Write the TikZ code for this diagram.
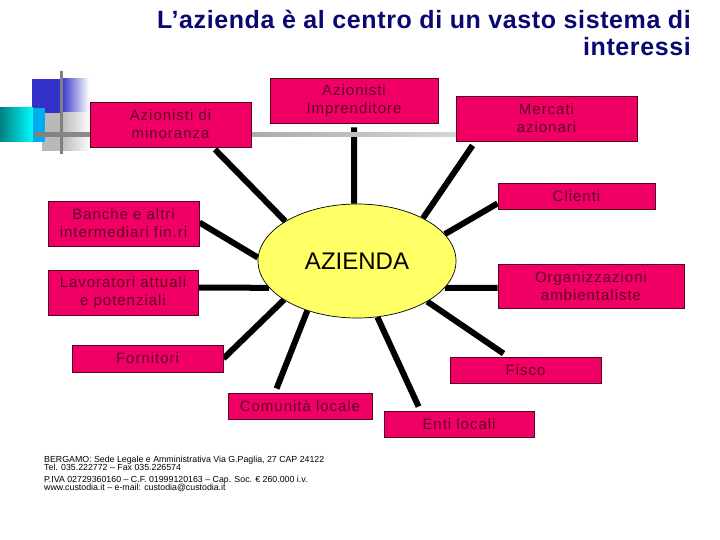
\documentclass[tikz,border=0pt]{standalone}
\usepackage{fontspec}
\setmainfont{Liberation Sans}
\newfontfamily\titlefont[LetterSpace=2.4]{Liberation Sans}
\newfontfamily\boxfont[LetterSpace=6.5]{Liberation Sans}
\usetikzlibrary{shapes.geometric}
\pgfdeclarelayer{bottom}
\pgfdeclarelayer{links}
\pgfsetlayers{bottom,links,main}
\definecolor{titleblue}{RGB}{8,8,112}
\definecolor{boxfill}{RGB}{240,0,100}
\definecolor{boxborder}{RGB}{90,0,30}
\definecolor{boxtext}{RGB}{95,0,35}
\definecolor{aziyellow}{RGB}{255,255,102}
\definecolor{decoblue}{RGB}{50,50,200}
\definecolor{decoteal}{RGB}{0,128,128}
\definecolor{decogray}{RGB}{185,185,185}
\definecolor{decoline}{RGB}{128,128,128}
\begin{document}
\begin{tikzpicture}[x=1pt,y=-1pt,
  box/.style={draw=boxborder, line width=0.9pt, fill=boxfill, text=boxtext,
    font=\boxfont\fontsize{15}{18}\selectfont, align=center, inner sep=0pt},
  link/.style={line width=6pt, draw=black},
  titletext/.style={text=titleblue, font=\titlefont\bfseries\fontsize{25}{27}\selectfont,
    align=right, inner sep=0pt, anchor=north east},
  foot/.style={font=\fontsize{8.8}{8.4}\selectfont, align=left, inner sep=0pt, anchor=north west}
]
\begin{pgfonlayer}{bottom}
\fill[white] (0,0) rectangle (720,540);
\end{pgfonlayer}
\useasboundingbox (0,0) rectangle (720,540);

% decoration top left
\fill[decoblue] (32,79) rectangle (61,113);
\shade[left color=decoblue, right color=white] (61,79) rectangle (89,113);
\fill[decogray] (42,113) rectangle (61,151);
\shade[left color=decogray, right color=white] (61,113) rectangle (91,151);
\shade[left color=decoteal, right color=cyan] (0,108) rectangle (33,142);
\fill[cyan] (33,108) rectangle (45,142);
\fill[decoline] (59.5,71) rectangle (62.5,154);
\shade[left color=decoline, right color=decogray!60] (34,133) rectangle (457,137);

% title
\node[titletext] (title) at (691,10) {L’azienda è al centro di un vasto sistema di\\interessi};

% boxes
\node[box, minimum width=161pt, minimum height=45pt] (mino) at (170.5,124.5) {Azionisti di\\minoranza};
\node[box, minimum width=168pt, minimum height=45pt] (impr) at (354,100.5) {Azionisti\\Imprenditore};
\node[box, minimum width=181pt, minimum height=45pt] (merc) at (546.5,118.5) {Mercati\\azionari};
\node[box, minimum width=157pt, minimum height=26pt] (cli) at (576.5,196) {Clienti};
\node[box, minimum width=186pt, minimum height=44pt] (org) at (591,286) {Organizzazioni\\ambientaliste};
\node[box, minimum width=151pt, minimum height=45pt] (ban) at (123.5,223.5) {Banche e altri\\intermediari fin.ri};
\node[box, minimum width=150pt, minimum height=45pt] (lav) at (123,292.5) {Lavoratori attuali\\e potenziali};
\node[box, minimum width=151pt, minimum height=27pt] (forn) at (147.5,358.5) {Fornitori};
\node[box, minimum width=144pt, minimum height=26pt] (com) at (300,406) {Comunità locale};
\node[box, minimum width=151pt, minimum height=26pt] (fis) at (525.5,370) {Fisco};
\node[box, minimum width=150pt, minimum height=26pt] (enti) at (459,424) {Enti locali};

% centre
\node[ellipse, draw=black, line width=0.7pt, fill=aziyellow, minimum width=198pt,
  minimum height=114pt, inner sep=0pt, font=\fontsize{24}{28}\selectfont] (az) at (357,261) {AZIENDA};

% connectors
\begin{pgfonlayer}{links}
\draw[link] (az.151.5) -- ([shift={(44.5,2)}]mino.south);
\draw[link] (az.93) -- ([shift={(0,4)}]impr.south);
\draw[link] (az.33) -- ([shift={(17,4)}]merc.south west);
\draw[link] (az.17) -- ([shift={(0,-6)}]cli.south west);
\draw[link] (az.-17) -- ([shift={(0,2)}]org.west);
\draw[link] (az.-30) -- ([shift={(54,-3)}]fis.north west);
\draw[link] (az.-70) -- ([shift={(35,-4)}]enti.north west);
\draw[link] (az.-135) -- ([shift={(49,-4)}]com.north west);
\draw[link] (az.-152) -- (forn.east);
\draw[link] (az.-163.5) -- ([shift={(0,-5)}]lav.east);
\draw[link] (az.178) -- ([shift={(0,-1)}]ban.east);
\end{pgfonlayer}

% footer
\node[foot] (footer) at (44,456) {BERGAMO: Sede Legale e Amministrativa Via G.Paglia, 27 CAP 24122\\
Tel. 035.222772 – Fax 035.226574\\[3pt]
P.IVA 02729360160 – C.F. 01999120163 – Cap. Soc. € 260.000 i.v.\\
www.custodia.it – e-mail: custodia@custodia.it};
\end{tikzpicture}
\end{document}
